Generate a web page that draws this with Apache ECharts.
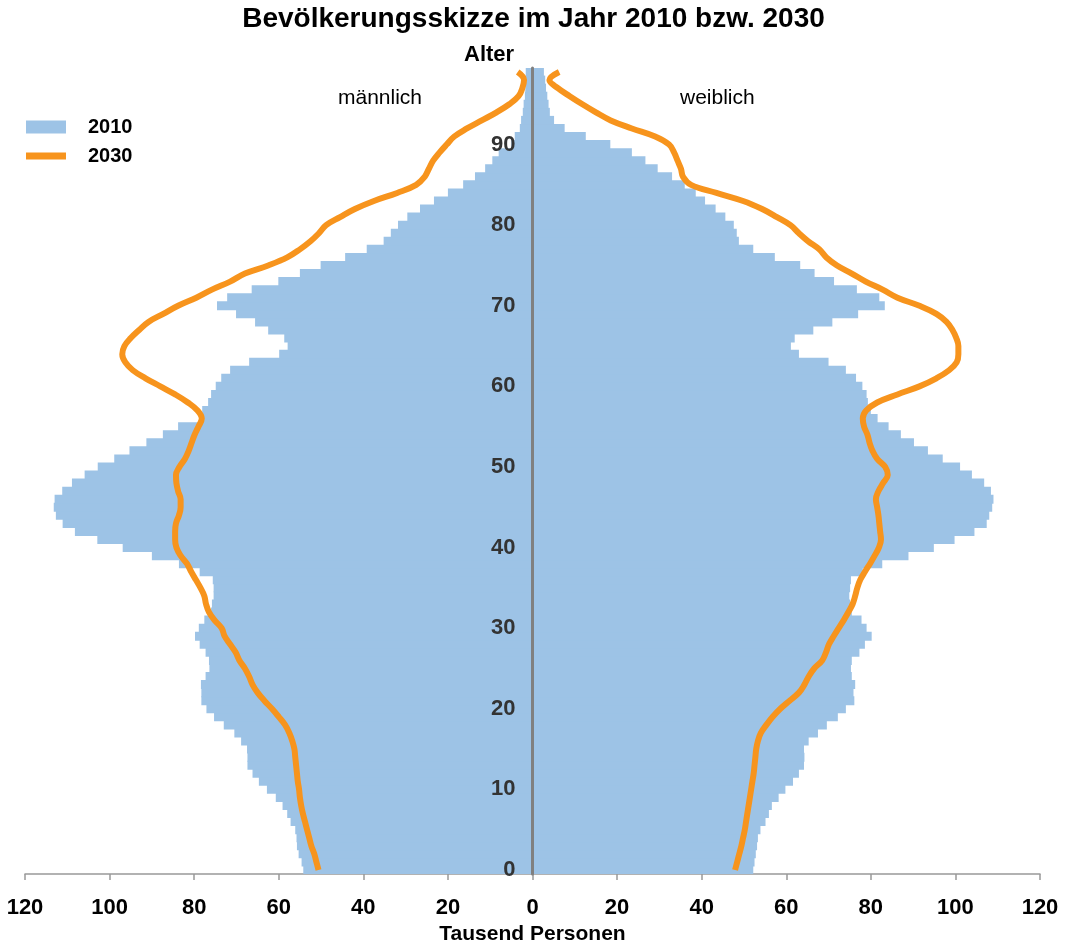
<!DOCTYPE html>
<html>
<head>
<meta charset="utf-8">
<script src="https://cdn.jsdelivr.net/npm/echarts@6/dist/echarts.min.js"></script>
<style>html,body{margin:0;padding:0;background:#fff}#c{width:1067px;height:945px}</style>
</head>
<body>
<div id="c"></div>
<script>
// Age categories 0..99
const ages = Array.from({length: 100}, (_, i) => String(i));

// 2010, Tausend Personen (male / female)
const male2010 = [54.2,54.6,55.3,55.7,55.8,56.1,57.2,58.0,59.1,60.7,
  62.8,64.7,66.2,67.4,67.4,67.5,68.9,70.5,73.0,75.3,
  77.1,78.3,78.3,78.4,77.3,76.4,76.5,77.3,78.7,79.8,
  78.9,77.6,76.0,75.8,75.4,75.4,75.6,78.7,83.6,90.0,
  96.9,102.9,108.2,111.1,112.7,113.2,113.0,111.2,108.9,105.9,
  102.8,98.9,95.3,91.3,87.4,83.8,78.1,78.1,76.7,76.0,
  74.9,73.6,71.5,67.0,59.9,57.9,58.7,62.5,65.6,70.1,
  74.6,72.2,66.4,60.1,55.0,50.1,44.3,39.2,35.2,33.5,
  31.8,29.6,26.6,23.3,20.0,16.4,13.6,11.2,9.5,8.0,
  5.0,4.2,3.0,2.7,2.3,2.1,1.8,1.7,1.6,1.6];
const female2010 = [52.2,52.5,52.8,53.1,53.3,53.9,55.1,55.9,56.6,58.2,
  59.8,61.6,63.0,64.2,64.3,64.2,65.3,67.5,69.6,72.2,
  74.1,76.1,75.9,76.3,75.5,75.3,75.5,77.3,78.6,80.2,
  79.0,77.8,75.5,75.1,74.9,75.1,75.3,78.1,82.7,88.9,
  94.9,99.8,104.5,107.4,108.0,108.7,109.0,108.4,106.8,103.9,
  101.1,97.0,93.5,90.2,87.1,84.2,81.6,80.0,79.3,79.0,
  78.0,76.5,74.1,70.0,63.0,61.1,62.0,66.4,70.9,77.0,
  83.3,82.0,76.7,71.3,66.7,63.3,57.3,52.2,48.8,48.3,
  47.6,45.6,43.3,40.8,38.6,36.0,33.0,29.6,26.7,23.5,
  18.4,12.6,7.6,5.1,4.1,3.8,3.5,3.2,3.0,2.7];

// 2030 (projection), Tausend Personen
const male2030 = [50.6,51.1,51.6,52.3,52.8,53.3,53.8,54.3,54.7,55.0,
  55.2,55.5,55.7,55.9,56.1,56.3,56.8,57.5,58.5,60.0,
  61.6,63.4,65.0,66.2,67.0,68.0,69.3,70.2,71.5,72.8,
  73.5,75.2,76.5,77.2,77.6,78.5,79.6,80.7,81.7,83.2,
  84.2,84.5,84.5,84.3,83.6,83.2,83.2,83.8,84.2,84.3,
  83.5,82.2,81.3,80.6,79.9,79.0,78.2,79.2,81.5,84.5,
  88.0,91.5,94.5,96.3,97.0,96.5,95.0,93.0,90.8,87.3,
  83.8,79.5,75.8,71.5,68.0,62.5,58.0,55.0,52.5,50.5,
  48.8,45.5,42.0,37.5,32.0,27.5,25.5,24.5,23.5,22.0,
  20.3,18.5,15.5,12.0,8.5,5.5,3.3,2.4,2.0,3.5];
const female2030 = [47.9,48.4,48.9,49.4,49.8,50.2,50.5,50.8,51.1,51.4,
  51.7,52.0,52.3,52.5,52.7,52.9,53.3,54.0,55.3,56.8,
  58.6,60.8,63.0,64.3,65.3,66.6,68.5,69.4,70.1,71.2,
  72.4,73.6,74.7,75.7,76.3,76.8,77.5,78.6,79.8,80.9,
  81.9,82.4,82.2,82.0,81.8,81.5,81.2,81.8,82.9,84.0,
  83.4,81.5,80.4,79.7,79.2,78.4,78.1,78.9,81.5,86.3,
  91.5,95.5,98.5,100.3,100.7,100.7,100.2,99.3,97.9,95.5,
  91.5,86.3,82.8,78.8,75.5,72.0,69.5,67.8,65.2,63.0,
  61.0,57.8,54.3,49.8,43.5,37.5,35.6,35.1,34.3,33.5,
  32.3,29.0,23.5,18.5,15.0,11.8,8.8,6.0,4.0,6.3];

const xTicks = {min: -120, max: 120, interval: 20};

const FONT = 'Liberation Sans, Arial, sans-serif';
const BLUE = '#9DC3E6';
const ORANGE = '#F7941D';

const W = 1067, GL = 25, GR = 27;
const centerOffset = -((W - GL - GR) / 2);

const chart = echarts.init(document.getElementById('c'), null, {renderer: 'canvas'});
chart.setOption({
  animation: false,
  backgroundColor: '#fff',
  textStyle: {fontFamily: FONT},
  title: [
    {text: 'Bevölkerungsskizze im Jahr 2010 bzw. 2030', left: 'center', top: 5, padding: 0,
     textStyle: {fontFamily: FONT, fontSize: 28, fontWeight: 'bold', color: '#000'}},
    {text: 'Alter', left: 464, top: 44, padding: 0,
     textStyle: {fontFamily: FONT, fontSize: 22, fontWeight: 'bold', color: '#000'}},
    {text: 'männlich', left: 338, top: 88, padding: 0,
     textStyle: {fontFamily: FONT, fontSize: 21, fontWeight: 'normal', color: '#000'}},
    {text: 'weiblich', left: 680, top: 88, padding: 0,
     textStyle: {fontFamily: FONT, fontSize: 21, fontWeight: 'normal', color: '#000'}}
  ],
  legend: {
    data: [
      {name: '2010', icon: 'rect'},
      {name: '2030', icon: 'path://M0,0 L0.01,0 M0,3 L40,3 L40,10 L0,10 Z M40,13 L40,13.01'}
    ],
    orient: 'vertical',
    left: 26, top: 117, padding: 0,
    itemWidth: 40, itemHeight: 13, itemGap: 9,
    textStyle: {fontFamily: FONT, fontSize: 20, fontWeight: 'bold', color: '#000', padding: [0, 0, 0, 17]}
  },
  grid: {left: GL, right: GR, top: 68, bottom: 71, containLabel: false, outerBoundsMode: 'none'},
  xAxis: {
    type: 'value', min: xTicks.min, max: xTicks.max, interval: xTicks.interval,
    name: 'Tausend Personen', nameLocation: 'middle', nameGap: 45,
    nameTextStyle: {fontFamily: FONT, fontSize: 21, fontWeight: 'bold', color: '#000'},
    axisLine: {show: true, lineStyle: {color: '#999', width: 1.5}},
    axisTick: {show: true, length: 6, lineStyle: {color: '#999', width: 1.5}},
    axisLabel: {margin: 23, fontFamily: FONT, fontSize: 22, fontWeight: 'bold', color: '#000',
      formatter: v => String(Math.abs(v))},
    splitLine: {show: false}
  },
  yAxis: {
    type: 'category', data: ages, z: 10, offset: centerOffset,
    axisLine: {show: true, onZero: false, lineStyle: {color: '#808080', width: 3}},
    axisTick: {show: false},
    axisLabel: {interval: 9, margin: 17, fontFamily: FONT, fontSize: 22, fontWeight: 'bold', color: '#333'},
    splitLine: {show: false}
  },
  series: [
    {name: '2010', type: 'bar', stack: 'p', barWidth: 9,
     itemStyle: {color: BLUE},
     data: male2010.map(v => -v)},
    {name: '2010', type: 'bar', stack: 'p', barWidth: 9,
     itemStyle: {color: BLUE},
     data: female2010},
    {name: '2030', type: 'line', smooth: 0.4, symbol: 'none', z: 5,
     itemStyle: {color: ORANGE}, lineStyle: {color: ORANGE, width: 6},
     data: male2030.map(v => -v)},
    {name: '2030', type: 'line', smooth: 0.4, symbol: 'none', z: 5,
     itemStyle: {color: ORANGE}, lineStyle: {color: ORANGE, width: 6},
     data: female2030}
  ]
});
</script>
</body>
</html>
